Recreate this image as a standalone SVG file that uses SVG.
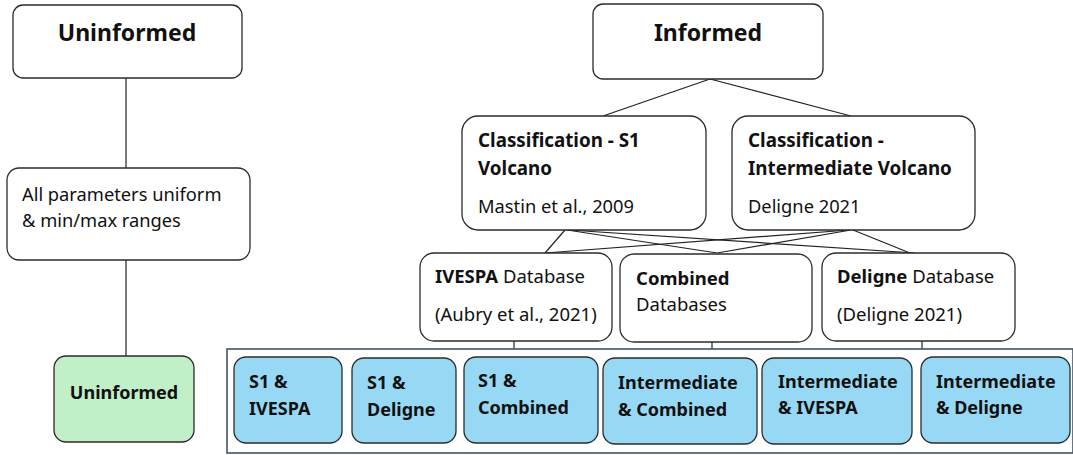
<svg xmlns="http://www.w3.org/2000/svg" width="1073" height="455" viewBox="0 0 1073 455">
  <style>
    .box { fill: #ffffff; stroke: #2b2b2b; stroke-width: 1.3; }
    .green { fill: #c1efc8; stroke: #2b2b2b; stroke-width: 1.3; }
    .blue { fill: #97d9f5; stroke: #2b2b2b; stroke-width: 1.3; }
    .frame { fill: none; stroke: #3f5566; stroke-width: 1.6; }
    .link { fill: none; stroke: #222222; stroke-width: 1.2; }
    text { font-family: "Noto Sans", "Open Sans", sans-serif; fill: #111111; }
    .title { font-size: 23px; font-weight: bold; }
    .head { font-size: 18.8px; font-weight: bold; }
    .body { font-size: 18.3px; }
    .db { font-size: 18.5px; }
    .leaf { font-size: 18px; font-weight: bold; }
  </style>

  <!-- connectors -->
  <g id="connectors">
    <line class="link" x1="126" y1="78" x2="126" y2="168"/>
    <line class="link" x1="126" y1="260" x2="126" y2="356"/>
    <line class="link" x1="710" y1="79" x2="603" y2="116"/>
    <line class="link" x1="710" y1="79" x2="851" y2="116"/>
    <line class="link" x1="565" y1="230" x2="545" y2="253"/>
    <line class="link" x1="567" y1="230" x2="717" y2="253"/>
    <line class="link" x1="569" y1="230" x2="915" y2="253"/>
    <line class="link" x1="849" y1="230" x2="545" y2="253"/>
    <line class="link" x1="851" y1="230" x2="717" y2="253"/>
    <line class="link" x1="853" y1="230" x2="910" y2="253"/>
    <line class="link" x1="514" y1="341" x2="514" y2="349"/>
    <line class="link" x1="712" y1="342" x2="712" y2="349"/>
    <line class="link" x1="922" y1="341" x2="922" y2="349"/>
  </g>

  <!-- left branch -->
  <g id="uninformed-root">
    <rect class="box" x="13" y="5" width="229" height="73" rx="10"/>
    <text class="title" x="127" y="41" text-anchor="middle">Uninformed</text>
  </g>
  <g id="uniform-ranges">
    <rect class="box" x="7" y="168" width="243" height="92" rx="12"/>
    <text class="body" x="22" y="201">All parameters uniform</text>
    <text class="body" x="22" y="227">&amp; min/max ranges</text>
  </g>
  <g id="uninformed-leaf">
    <rect class="green" x="54" y="356" width="140" height="86" rx="12"/>
    <text class="leaf" x="124" y="399" text-anchor="middle">Uninformed</text>
  </g>

  <!-- right branch -->
  <g id="informed-root">
    <rect class="box" x="593" y="4" width="230" height="75" rx="10"/>
    <text class="title" x="708" y="41" text-anchor="middle">Informed</text>
  </g>
  <g id="class-s1">
    <rect class="box" x="462" y="116" width="244" height="114" rx="16"/>
    <text class="head" x="478" y="147">Classification - S1</text>
    <text class="head" x="478" y="175">Volcano</text>
    <text class="body" x="478" y="213">Mastin et al., 2009</text>
  </g>
  <g id="class-intermediate">
    <rect class="box" x="732" y="116" width="243" height="114" rx="16"/>
    <text class="head" x="748" y="147">Classification -</text>
    <text class="head" x="748" y="175">Intermediate Volcano</text>
    <text class="body" x="748" y="213">Deligne 2021</text>
  </g>

  <g id="db-ivespa">
    <rect class="box" x="420" y="253" width="192" height="88" rx="14"/>
    <text class="db" x="435" y="283"><tspan font-weight="bold">IVESPA</tspan> Database</text>
    <text class="db" x="435" y="321">(Aubry et al., 2021)</text>
  </g>
  <g id="db-combined">
    <rect class="box" x="620" y="254" width="192" height="88" rx="14"/>
    <text class="db" x="636" y="285" font-weight="bold">Combined</text>
    <text class="db" x="636" y="311">Databases</text>
  </g>
  <g id="db-deligne">
    <rect class="box" x="822" y="253" width="193" height="88" rx="14"/>
    <text class="db" x="837" y="283"><tspan font-weight="bold">Deligne</tspan> Database</text>
    <text class="db" x="837" y="321">(Deligne 2021)</text>
  </g>

  <!-- scenario combinations -->
  <rect class="frame" x="227" y="349" width="846" height="104"/>
  <g id="s1-ivespa">
    <rect class="blue" x="234" y="357" width="108" height="86" rx="12"/>
    <text class="leaf" x="249" y="388">S1 &amp;</text>
    <text class="leaf" x="249" y="415">IVESPA</text>
  </g>
  <g id="s1-deligne">
    <rect class="blue" x="352" y="358" width="104" height="85" rx="12"/>
    <text class="leaf" x="367" y="389">S1 &amp;</text>
    <text class="leaf" x="367" y="416">Deligne</text>
  </g>
  <g id="s1-combined">
    <rect class="blue" x="464" y="357" width="134" height="86" rx="12"/>
    <text class="leaf" x="478" y="387">S1 &amp;</text>
    <text class="leaf" x="478" y="414">Combined</text>
  </g>
  <g id="intermediate-combined">
    <rect class="blue" x="603" y="358" width="154" height="86" rx="12"/>
    <text class="leaf" x="618" y="389">Intermediate</text>
    <text class="leaf" x="618" y="416">&amp; Combined</text>
  </g>
  <g id="intermediate-ivespa">
    <rect class="blue" x="762" y="358" width="150" height="86" rx="12"/>
    <text class="leaf" x="778" y="388">Intermediate</text>
    <text class="leaf" x="778" y="414">&amp; IVESPA</text>
  </g>
  <g id="intermediate-deligne">
    <rect class="blue" x="921" y="357" width="149" height="86" rx="12"/>
    <text class="leaf" x="936" y="388">Intermediate</text>
    <text class="leaf" x="936" y="414">&amp; Deligne</text>
  </g>
</svg>
